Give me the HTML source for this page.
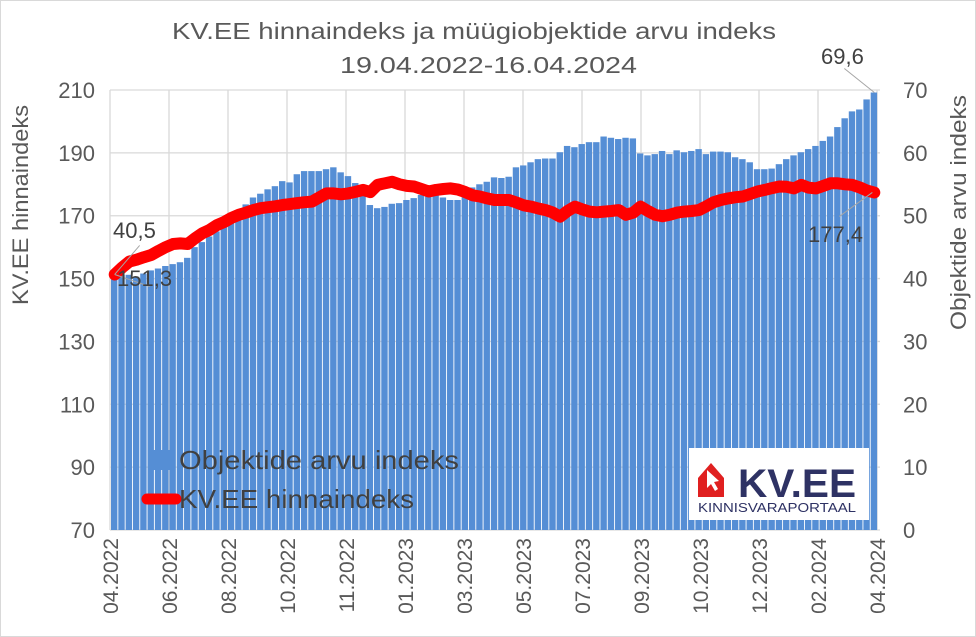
<!DOCTYPE html>
<html><head><meta charset="utf-8"><style>
body{margin:0;background:#fff}
svg{display:block;font-family:"Liberation Sans",sans-serif}
</style></head><body>
<svg id="c" width="976" height="637" viewBox="0 0 976 637">
<rect x="0.5" y="0.5" width="975" height="636" fill="#fff" stroke="#d9d9d9"/>
<text x="172" y="39" font-size="23" fill="#595959" textLength="604" lengthAdjust="spacingAndGlyphs">KV.EE hinnaindeks ja müügiobjektide arvu indeks</text>
<text x="340" y="73" font-size="23" fill="#595959" textLength="297" lengthAdjust="spacingAndGlyphs">19.04.2022-16.04.2024</text>
<g id="grid"></g><g id="bars"></g><g id="line"></g><g id="axes"></g>
<text transform="translate(28,305) rotate(-90)" font-size="22" fill="#595959" textLength="200" lengthAdjust="spacingAndGlyphs">KV.EE hinnaindeks</text>
<text transform="translate(966,330) rotate(-90)" font-size="22" fill="#595959" textLength="235" lengthAdjust="spacingAndGlyphs">Objektide arvu indeks</text>
<g>
<rect x="149" y="450" width="26" height="20" fill="#558ed5"/>
<text x="179" y="469" font-size="26" fill="#404040" textLength="280" lengthAdjust="spacingAndGlyphs">Objektide arvu indeks</text>
<line x1="147" y1="499" x2="176" y2="499" stroke="#ff0000" stroke-width="11" stroke-linecap="round"/>
<text x="179" y="508" font-size="26" fill="#404040" textLength="235" lengthAdjust="spacingAndGlyphs">KV.EE hinnaindeks</text>
</g>
<g>
<rect x="689" y="448" width="180" height="72" fill="#fff"/>
<path d="M698 478 L711 463 L724 478 L724 497 L698 497 Z" fill="#e02020"/>
<path d="M707 470 L707 488 L711 484 L715 491 L718 489 L714 482 L719 481 Z" fill="#fff"/>
<text x="738" y="497" font-size="40" font-weight="bold" fill="#2e3264" textLength="118" lengthAdjust="spacingAndGlyphs">KV.EE</text>
<text x="698" y="512" font-size="13" fill="#2e3264" textLength="158" lengthAdjust="spacingAndGlyphs">KINNISVARAPORTAAL</text>
</g>
</svg>
<script>
const barValues=[40.5,40.6,40.6,40.3,40.8,41.3,41.6,42.0,42.3,42.6,43.3,45.0,45.8,46.7,47.5,48.3,49.1,50.2,51.8,52.9,53.5,54.2,54.7,55.5,55.3,56.6,57.1,57.1,57.1,57.4,57.7,56.9,56.3,55.2,54.4,51.7,51.2,51.4,51.9,52.0,52.5,52.8,53.3,53.3,53.3,52.9,52.5,52.5,54.1,54.5,55.0,55.4,56.1,56.0,56.2,57.7,58.0,58.5,59.0,59.1,59.1,60.1,61.1,60.9,61.4,61.7,61.7,62.6,62.4,62.2,62.4,62.3,59.9,59.6,59.8,60.3,59.8,60.4,60.1,60.3,60.6,59.8,60.2,60.2,60.1,59.3,59.0,58.5,57.4,57.4,57.5,58.2,59.0,59.6,60.1,60.6,61.1,61.9,62.6,64.1,65.5,66.6,66.9,68.5,69.6];
const lineValues=[151.3,153.5,155.4,156,156.8,157.5,158.8,160,161,161.2,161,162.8,164.4,165.5,167,168,169.3,170.3,171,171.8,172.4,172.7,173,173.4,173.7,174,174.3,174.5,175.8,177.1,177.1,176.8,177.1,177.6,178.2,177.5,179.8,180.3,180.8,180,179.5,179.3,178.5,177.7,178.2,178.5,178.7,178.3,177.5,176.5,176.1,175.5,175,175,175,174.2,173.3,172.9,172.3,171.8,171,169.7,171.5,172.9,172,171.3,171.1,171.3,171.5,171.8,170.3,171,172.9,171.5,170.3,169.8,170.3,171,171.3,171.5,171.8,173,174.3,175,175.5,175.9,176.1,176.9,177.7,178.2,178.8,179.3,179.2,178.7,179.8,178.9,178.7,179.5,180.3,180.3,180,179.8,179,178,177.4];
const leftTicks=[70,90,110,130,150,170,190,210];
const rightTicks=[0,10,20,30,40,50,60,70];
const xLabels=["04.2022","06.2022","08.2022","10.2022","11.2022","01.2023","03.2023","05.2023","07.2023","09.2023","10.2023","12.2023","02.2024","04.2024"];
const NS="http://www.w3.org/2000/svg";
const X0=111,X1=878,YT=90,YB=530;
const yL=v=>YB-(v-70)/140*(YB-YT);
const yR=v=>YB-v/70*(YB-YT);
const n=barValues.length,bw=(X1-X0)/n;
const xB=i=>X0+i*bw;
function mk(tag,attrs,parent){const e=document.createElementNS(NS,tag);for(const k in attrs)e.setAttribute(k,attrs[k]);parent.appendChild(e);return e;}
const grid=document.getElementById('grid'),bars=document.getElementById('bars'),line=document.getElementById('line'),axes=document.getElementById('axes');
leftTicks.forEach((t,i)=>{
 const y=yL(t);
 const g=mk('line',{x1:X0-1,x2:X1+2,y1:y,y2:y,stroke:'#d9d9d9','stroke-width':1.3},grid);
 
 
 const tl=mk('text',{x:95,y:y+8,'text-anchor':'end','font-size':22,fill:'#595959'},axes);
 tl.textContent=t;
 
 
});
rightTicks.forEach(t=>{
 const y=yR(t);
 const tr=mk('text',{x:903,y:y+8,'text-anchor':'start','font-size':22,fill:'#595959'},axes);
 tr.textContent=t;
 
 
});
xLabels.forEach((l,i)=>{
 const x=X0-1+i*(X1-X0)/(xLabels.length-1);
 const g=mk('line',{x1:x,x2:x,y1:YT,y2:YB,stroke:'#d9d9d9','stroke-width':1.3},grid);
 
 
 const t=mk('text',{transform:`translate(${x+8},${YB+8}) rotate(-90)`,'text-anchor':'end','font-size':21,fill:'#595959'},axes);
 t.textContent=l;
 
 
});
barValues.forEach((v,i)=>{
 const y=yR(v);
 const r=mk('rect',{x:xB(i),y:y,width:bw-0.9,height:YB-y,fill:'#558ed5'},bars);
 
 
});
const pts=lineValues.map((v,i)=>`${(xB(i)+bw/2).toFixed(1)},${yL(v).toFixed(1)}`).join(' ');
const pl=mk('polyline',{points:pts,fill:'none',stroke:'#ff0000','stroke-width':12,'stroke-linejoin':'round','stroke-linecap':'round'},line);


const x0=xB(0)+bw/2, xn=xB(n-1)+bw/2;
function lbl(txt,x,y,name){const t=mk('text',{x:x,y:y,'font-size':22,fill:'#404040'},axes);t.textContent=txt;
 
 }
mk('line',{x1:x0,y1:yL(lineValues[0]),x2:x0+25,y2:yL(lineValues[0])-29,stroke:'#a6a6a6'},axes);
mk('line',{x1:x0,y1:yL(lineValues[0]),x2:x0+35,y2:yL(lineValues[0])+12,stroke:'#a6a6a6'},axes);
lbl(String(barValues[0]).replace('.',','),113,238,'first-bar-label');
lbl(String(lineValues[0]).replace('.',','),117,286,'first-line-label');
mk('line',{x1:xn,y1:yR(barValues[n-1]),x2:xn-30,y2:yR(barValues[n-1])-24,stroke:'#a6a6a6'},axes);
mk('line',{x1:xn-2,y1:yL(lineValues[n-1]),x2:xn-35,y2:yL(lineValues[n-1])+24,stroke:'#a6a6a6'},axes);
lbl(String(barValues[n-1]).replace('.',','),821,64,'last-bar-label');
lbl(String(lineValues[n-1]).replace('.',','),808,242,'last-line-label');
</script>
</body></html>
